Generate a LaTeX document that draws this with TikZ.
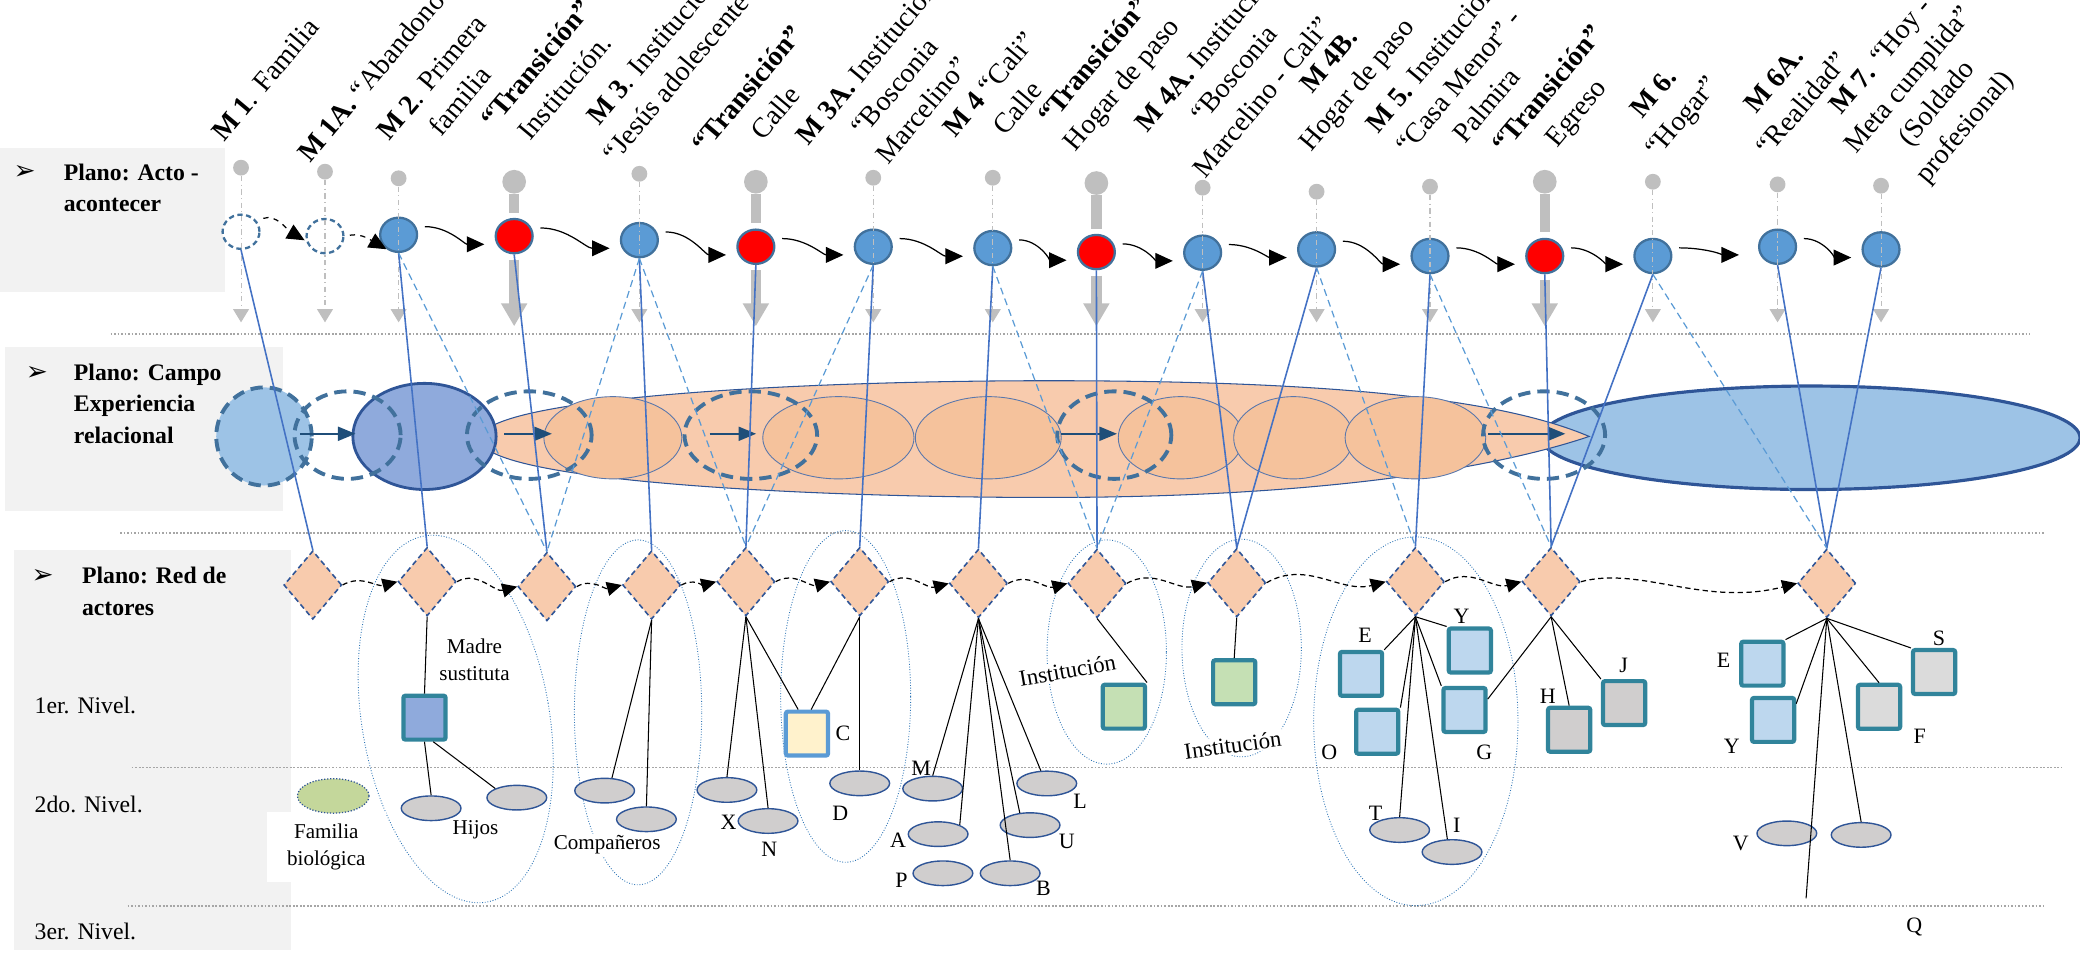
\documentclass[tikz,border=0pt]{standalone}
\usepackage{fontspec}
\setmainfont{Liberation Serif}
\newfontfamily\arrowfont{DejaVu Sans}
\usepackage{tikz}
\usetikzlibrary{shapes.geometric, arrows.meta, positioning, calc}

\definecolor{bubblefill}{HTML}{5B9BD5}
\definecolor{bubbleedge}{HTML}{41719C}
\definecolor{pingray}{HTML}{BFBFBF}
\definecolor{linkblue}{HTML}{4472C4}
\definecolor{linklight}{HTML}{5B9BD5}
\definecolor{skyfill}{HTML}{9DC3E6}
\definecolor{navyfill}{HTML}{8FAADC}
\definecolor{navyedge}{HTML}{2F5597}
\definecolor{cflowcol}{HTML}{1F4E79}
\definecolor{peach}{HTML}{F8CBAD}
\definecolor{peachdark}{HTML}{F5C29C}
\definecolor{actedge}{HTML}{31849B}
\definecolor{greenfill}{HTML}{C5E0B4}
\definecolor{palefill}{HTML}{BDD7EE}
\definecolor{greyfill}{HTML}{D0CECE}
\definecolor{lightgrey}{HTML}{DBDBDB}
\definecolor{cream}{HTML}{FFF2CC}
\definecolor{panel}{HTML}{F2F2F2}
\definecolor{sepgray}{HTML}{A6A6A6}
\definecolor{clusterblue}{HTML}{2E75B6}
\definecolor{famgreen}{HTML}{C4D79B}

\begin{document}
\begin{tikzpicture}[x=0.755pt, y=0.755pt,
  bubble/.style={ellipse, draw=bubbleedge, line width=1.3pt, fill=bubblefill, minimum width=21pt, minimum height=19.5pt, inner sep=0pt},
  pivot/.style={bubble, fill=red},
  ghost/.style={bubble, fill=white, dash pattern=on 3pt off 2pt},
  pinhead/.style={circle, fill=pingray, minimum size=9pt, inner sep=0pt},
  bigpin/.style={circle, fill=pingray, minimum size=13.5pt, inner sep=0pt},
  pinline/.style={pingray, line width=0.6pt, dash dot, -{Triangle[length=7.5pt,width=9pt]}},
  stem/.style={pingray, line width=6pt},
  bigarrow/.style={pingray, line width=6pt, -{Triangle[length=13pt,width=14pt]}},
  flow/.style={line width=0.7pt, -{Triangle[length=10pt,width=9pt]}, shorten <=5pt, shorten >=7pt},
  hub/.style={diamond, draw=navyedge, dash pattern=on 3pt off 2pt, line width=0.9pt, fill=peach, minimum width=33pt, minimum height=39pt, inner sep=0pt},
  hop/.style={line width=0.7pt, dash pattern=on 3pt off 2pt, -{Triangle[length=8.5pt,width=8pt]}},
  link/.style={linkblue, line width=0.9pt},
  hint/.style={linklight, dash pattern=on 4pt off 2.5pt, line width=0.7pt},
  dashring/.style={draw=bubbleedge, line width=2.2pt, dash pattern=on 7pt off 4pt},
  stage/.style={draw=navyedge!80, line width=0.5pt, fill=peachdark},
  cflow/.style={cflowcol, line width=1pt, -{Triangle[length=10pt,width=8pt]}},
  cluster/.style={draw=clusterblue, line width=0.5pt, densely dotted},
  sepline/.style={sepgray, line width=1pt, densely dotted},
  actorbox/.style={rectangle, draw=actedge, line width=2.4pt, rounded corners=1.2pt, minimum width=24pt, minimum height=25pt, inner sep=0pt},
  peer/.style={ellipse, draw=navyedge, line width=0.8pt, fill=greyfill, minimum width=34pt, minimum height=14pt, inner sep=0pt},
  famoval/.style={ellipse, draw=navyedge, densely dotted, line width=0.7pt, fill=famgreen, minimum width=40.8pt, minimum height=19.6pt, inner sep=0pt},
  tie/.style={line width=0.6pt},
  mlabel/.style={rotate=50, align=center, inner sep=0pt, font=\fontsize{16}{20.8}\selectfont},
  plano/.style={anchor=north west, align=left, inner sep=0pt, font=\bfseries\fontsize{13.5}{17.8}\selectfont},
  nivel/.style={anchor=base west, inner sep=0pt, font=\fontsize{13.5}{16}\selectfont},
  arrowmark/.style={inner sep=0pt, font=\arrowfont\fontsize{15}{15}\selectfont},
  note/.style={align=center, inner sep=1pt, fill=white, font=\fontsize{12}{15}\selectfont},
  letter/.style={inner sep=0pt, font=\fontsize{12.5}{14}\selectfont}
]
  \useasboundingbox (0,0) rectangle (1568,-727);

  % side panels
  \fill[panel] (0,-111.3) rectangle (169.3,-219.9);
  \fill[panel] (4,-261.3) rectangle (213,-385);
  \fill[panel] (10.6,-414.6) rectangle (219.1,-716.2);

  % level separators
  \draw[sepline] (83.3,-252) -- (1530,-252);
  \draw[sepline] (90.5,-401.6) -- (1541,-401.6);
  \draw[sepline] (99.3,-578.5) -- (1554,-578.5);
  \draw[sepline] (96.2,-682.8) -- (1541,-682.8);

  % Campo experiencia relacional
  \draw[navyedge, line width=1.8pt, fill=skyfill] (1365,-330) ellipse [x radius=203, y radius=39];
  \draw[navyedge, line width=0.6pt, fill=peach] (362,-331) .. controls (362,-300) and (600,-287) .. (790,-287)
    .. controls (1000,-287) and (1130,-300) .. (1198,-329)
    .. controls (1130,-352) and (1000,-375) .. (790,-375)
    .. controls (600,-375) and (362,-362) .. cycle;
  \foreach \cx/\rx in {462/52, 632/57, 745/55, 890/47, 975/45, 1067/53}
    \draw[stage] (\cx,-330) ellipse [x radius=\rx, y radius=31];
  \draw[navyedge, line width=1.6pt, fill=navyfill] (320,-329) ellipse [x radius=54, y radius=40];
  \draw[dashring, fill=skyfill] (199,-329) ellipse [x radius=36, y radius=37];
  \foreach \cx/\rx in {262/40, 399/47, 566/50, 840/43, 1164/46}
    \draw[dashring] (\cx,-328) ellipse [x radius=\rx, y radius=33];
  \foreach \i/\a/\z in {1/226/268, 2/380/416, 3/535/570, 4/800/842, 5/1122/1180} {
    \coordinate (go\i) at (\a,-327);
    \coordinate (to\i) at (\z,-327);
    \draw[cflow] (go\i) -- (to\i);
  }

  % actor clusters
  \draw[cluster, rotate around={9.6:(343.5,-542)}] (343.5,-542) ellipse [x radius=70.7, y radius=140];
  \draw[cluster] (481,-537) ellipse [x radius=48, y radius=130];
  \draw[cluster] (637.5,-525) ellipse [x radius=49, y radius=125];
  \draw[cluster] (834.3,-491.5) ellipse [x radius=45, y radius=84.5];
  \draw[cluster] (936,-488.5) ellipse [x radius=45, y radius=82];
  \draw[cluster] (1067.3,-543.7) ellipse [x radius=77, y radius=139];

  % Acto - acontecer
  \node[ghost] (m1) at (181.7,-174.7) {};
  \node[ghost] (m1a) at (245,-178) {};
  \node[bubble] (m2) at (300.5,-177) {};
  \node[pivot] (t1) at (387.6,-178) {};
  \node[bubble] (m3) at (482,-181) {};
  \node[pivot] (t2) at (569.8,-186) {};
  \node[bubble] (m3a) at (658.3,-186) {};
  \node[bubble] (m4) at (748.4,-187) {};
  \node[pivot] (t3) at (826.5,-190) {};
  \node[bubble] (m4a) at (906.6,-190.5) {};
  \node[bubble] (m4b) at (992.5,-188) {};
  \node[bubble] (m5) at (1078,-193) {};
  \node[pivot] (t4) at (1164.5,-193) {};
  \node[bubble] (m6) at (1246,-193) {};
  \node[bubble] (m6a) at (1340,-186) {};
  \node[bubble] (m7) at (1418,-188) {};

  % pins
  \foreach \s/\px/\py in {m1/181.7/126.4, m1a/245/129.4, m2/300.5/134.4, m3/482/131, m3a/658.3/134, m4/748.4/134,
                          m4a/906.6/141.5, m4b/992.5/144.5, m5/1078/140.7, m6/1246/137, m6a/1340/139, m7/1418/140} {
    \node[pinhead] (\s-pin) at (\px,-\py) {};
    \coordinate (\s-foot) at (\px,-243);
    \draw[pinline] (\s-pin) -- (\s-foot);
  }
  \foreach \s/\px/\py in {t1/387.6/137, t2/569.8/137, t3/826.5/138, t4/1164.5/137} {
    \node[bigpin] (\s-pin) at (\px,-\py) {};
    \coordinate (\s-foot) at (\px,-246);
    \draw[stem, shorten >=3pt] (\s-pin) -- (\s);
    \draw[bigarrow, shorten <=3pt] (\s) -- (\s-foot);
  }

  % sequence
  \draw[flow, dashed, shorten <=4pt, shorten >=1pt] (m1.35) to[out=20,in=150] (m1a.195);
  \draw[flow, dashed, shorten <=3pt, shorten >=1pt] (m1a.east) to[out=10,in=150] (m2.235);
  \foreach \s/\e in {m2/t1, t1/m3, m3/t2, t2/m3a, m3a/m4, m4/t3, t3/m4a, m4a/m4b, m4b/m5, m5/t4, t4/m6, m6a/m7}
    \draw[flow] (\s.25) to[out=0,in=180] (\e.205);
  \draw[flow, shorten >=12pt] (m6.25) to[out=0,in=180] (m6a.205);

  % Red de actores
  \node[hub] (d1) at (235.8,-441) {};
  \node[hub] (d2) at (322,-438.5) {};
  \node[hub] (d3) at (412.3,-442.2) {};
  \node[hub] (d4) at (491.2,-441) {};
  \node[hub] (d5) at (562.3,-438.5) {};
  \node[hub] (d6) at (648.1,-438.5) {};
  \node[hub] (d7) at (737.6,-439.8) {};
  \node[hub] (d8) at (827,-439.8) {};
  \node[hub] (d9) at (932.3,-439.3) {};
  \node[hub] (d10) at (1067,-438.5) {};
  \node[hub] (d11) at (1169.3,-438.5) {};
  \node[hub] (d12) at (1377.1,-439.7) {};
  \foreach \s/\e in {d1/d2, d2/d3, d3/d4, d4/d5, d5/d6, d6/d7, d7/d8, d8/d9, d9/d10, d10/d11}
    \draw[hop] (\s.east) to[out=30,in=195] (\e.west);
  \draw[hop] (d11.east) .. controls +(45,12) and +(-70,-18) .. (d12.west);

  % links between planes
  \foreach \s/\e in {m1/d1, m2/d2, t1/d3, m3/d4, t2/d5, m3a/d6, m4/d7, t3/d8, m4a/d9, m4b/d9, m5/d10, t4/d11, m6/d11, m6a/d12, m7/d12}
    \draw[link] (\s.south) -- (\e.north);
  \foreach \s/\e in {m2/d3, m3/d3, m3/d5, m3a/d5, m4/d8, m4a/d8, m4b/d10, m5/d11, m6/d12}
    \draw[hint] (\s.south) -- (\e.north);

  % notes
  \node[note] (madretxt) at (357.7,-497.5) {Madre\\sustituta};
  \node[note] (hijostxt) at (358.5,-625.7) {Hijos};
  \node[note] (comptxt) at (457.7,-637) {Compañeros};
  \node[note, minimum width=68pt, minimum height=40pt, font=\fontsize{12}{15.8}\selectfont] (famtxt) at (246,-638.5) {Familia\\biológica};
  \node[note, rotate=10, font=\fontsize{13}{15}\selectfont] (insttxt1) at (804.6,-505.6) {Institución};
  \node[note, rotate=8, font=\fontsize{13}{15}\selectfont] (insttxt2) at (929.3,-561.6) {Institución};

  % actors
  \node[actorbox, fill=navyfill] (madre) at (320,-541) {};
  \node[peer] (hijo1) at (325,-609.3) {};
  \node[peer] (hijo2) at (389.6,-601.3) {};
  \node[famoval] (fambio) at (251.2,-600) {};
  \node[peer] (comp1) at (455.8,-596) {};
  \node[peer] (comp2) at (487.3,-617.6) {};
  \node[peer] (ox) at (548,-595.5) {};
  \node[peer] (on) at (579,-618.9) {};
  \node[actorbox, fill=cream, draw=bubblefill] (sqc) at (608.3,-553) {};
  \node[peer] (od) at (648.1,-590.5) {};
  \node[peer] (om) at (703.1,-594.5) {};
  \node[peer] (oa) at (707.2,-628.8) {};
  \node[peer] (op) at (710.8,-658.3) {};
  \node[peer] (ob) at (761.5,-658.3) {};
  \node[peer] (ou) at (776.5,-622) {};
  \node[peer] (ol) at (789.1,-590.6) {};
  \node[actorbox, fill=greenfill] (inst1) at (847.2,-532.7) {};
  \node[actorbox, fill=greenfill] (inst2) at (930.4,-514.3) {};
  \node[actorbox, fill=palefill] (se) at (1026,-508) {};
  \node[actorbox, fill=palefill] (sy) at (1108,-490.4) {};
  \node[actorbox, fill=palefill] (so) at (1038.2,-551.6) {};
  \node[actorbox, fill=palefill] (sg) at (1104,-535.2) {};
  \node[peer] (ot) at (1055.1,-625.7) {};
  \node[peer] (oi) at (1094.6,-642.3) {};
  \node[actorbox, fill=greyfill] (sh) at (1182.9,-550.1) {};
  \node[actorbox, fill=greyfill] (sj) at (1224.3,-530) {};
  \node[actorbox, fill=palefill] (se2) at (1328.5,-500.3) {};
  \node[actorbox, fill=palefill] (sy2) at (1336.6,-542.7) {};
  \node[actorbox, fill=lightgrey] (sf) at (1416.5,-532.8) {};
  \node[actorbox, fill=lightgrey] (ss) at (1458,-506.6) {};
  \node[peer] (ov) at (1347,-628.2) {};
  \node[peer] (ow) at (1403,-629.4) {};
  \coordinate (qend) at (1361.5,-677.2);

  % ties
  \draw[tie] (d2.south) -- (madre.north);
  \draw[tie] (madre.south) -- (hijo1.north);
  \draw[tie] (madre.-70) -- (hijo2.north west);
  \draw[tie] (d4.south) -- (comp1.60);
  \draw[tie] (d4.south) -- (comp2.north);
  \foreach \tgt in {ox.north, on.north, sqc.110} \draw[tie] (d5.south) -- (\tgt);
  \foreach \tgt in {sqc.80, od.north} \draw[tie] (d6.south) -- (\tgt);
  \foreach \tgt in {om.north, oa.north east, ob.north, ou.130, ol.115} \draw[tie] (d7.south) -- (\tgt);
  \draw[tie] (d8.south) -- (inst1.north east);
  \draw[tie] (d9.south) -- (inst2.north);
  \foreach \tgt in {se.north east, sy.north west, so.north east, sg.north west, ot.north, oi.110} \draw[tie] (d10.south) -- (\tgt);
  \foreach \tgt in {sg.25, sh.north, sj.north west} \draw[tie] (d11.south) -- (\tgt);
  \foreach \tgt in {se2.north east, sy2.35, ss.north west, sf.north, ow.north, qend} \draw[tie] (d12.south) -- (\tgt);

  % actor letters
  \foreach \nm/\lx/\ly/\txt in {lc/635.4/552.8/C, ld/633.5/613.1/D, lx/549.3/620.1/X, ln/580/640.2/N,
      lm/694.3/579.2/M, la/677/633.7/A, lp/679.6/663.9/P, lb/786.6/669.7/B, ll/814.2/604.4/L, lu/804.1/634.5/U,
      le/1029.1/478.7/E, ly/1101.8/464.3/Y, lo/1002.1/567.4/O, lg/1119/567.4/G, lt/1037/613.1/T, li/1098.2/621.9/I,
      lh/1166.7/525.2/H, lj/1223.9/501.3/J, le2/1299.2/498/E, ly2/1305.4/562.3/Y, ls/1461.7/481.2/S, lf/1447.2/555.3/F,
      lv/1312.2/635.7/V, lq/1443/698.5/Q}
    \node[letter] (\nm) at (\lx,-\ly) {\txt};

  % plane titles
  \node[arrowmark] (a1) at (18.5,-130) {➢};
  \node[plano] (p1) at (47.8,-123.5) {Plano: Acto -\\acontecer};
  \node[arrowmark] (a2) at (27.8,-281.4) {➢};
  \node[plano] (p2) at (55.5,-274.3) {Plano: Campo\\Experiencia\\relacional};
  \node[arrowmark] (a3) at (32.2,-434.7) {➢};
  \node[plano] (p3) at (61.6,-427.5) {Plano: Red de\\actores};
  \node[nivel] (n1) at (25.9,-537.8) {1er. Nivel.};
  \node[nivel] (n2) at (25.9,-612.4) {2do. Nivel.};
  \node[nivel] (n3) at (25.9,-708.1) {3er. Nivel.};

  % moments
  \node[mlabel] (lm1) at (199.9,-59.8) {\textbf{M 1}. Familia};
  \node[mlabel] (lm1a) at (282.5,-54.3) {\textbf{M 1A.} “Abandono”};
  \node[mlabel] (lm2) at (336,-67.2) {\textbf{M 2}. Primera\\familia};
  \node[mlabel] (lt1) at (415,-56.8) {\textbf{“Transición”}\\Institución.};
  \node[mlabel] (lm3) at (501.7,-46.2) {\textbf{M 3}. Institución\\“Jesús adolescente”};
  \node[mlabel] (lt2) at (573.7,-75.7) {\textbf{“Transición”}\\Calle};
  \node[mlabel] (lm3a) at (674.1,-65.4) {\textbf{M 3A.} Institución\\“Bosconia\\Marcelino”};
  \node[mlabel] (lm4) at (756.2,-72.2) {\textbf{M 4} “Cali”\\Calle};
  \node[mlabel] (lt3) at (836,-55.6) {\textbf{“Transición”}\\Hogar de paso};
  \node[mlabel] (lm4a) at (929.8,-55.4) {\textbf{M 4A.} Institución\\“Bosconia\\Marcelino - Cali”};
  \node[mlabel] (lm4b) at (1013.9,-56.1) {\textbf{M 4B.}\\Hogar de paso};
  \node[mlabel] (lm5) at (1099.3,-61.3) {\textbf{M 5.} Institución\\“Casa Menor” -\\Palmira};
  \node[mlabel] (lt4) at (1178.8,-77) {\textbf{“Transición”}\\Egreso};
  \node[mlabel] (lm6) at (1258.7,-80.4) {\textbf{M 6.}\\“Hogar”};
  \node[mlabel] (lm6a) at (1347.9,-69.4) {\textbf{M 6A.}\\“Realidad”};
  \node[mlabel] (lm7) at (1450.4,-70) {\textbf{M 7.} “Hoy -\\Meta cumplida”\\(Soldado\\profesional)};
\end{tikzpicture}
\end{document}
